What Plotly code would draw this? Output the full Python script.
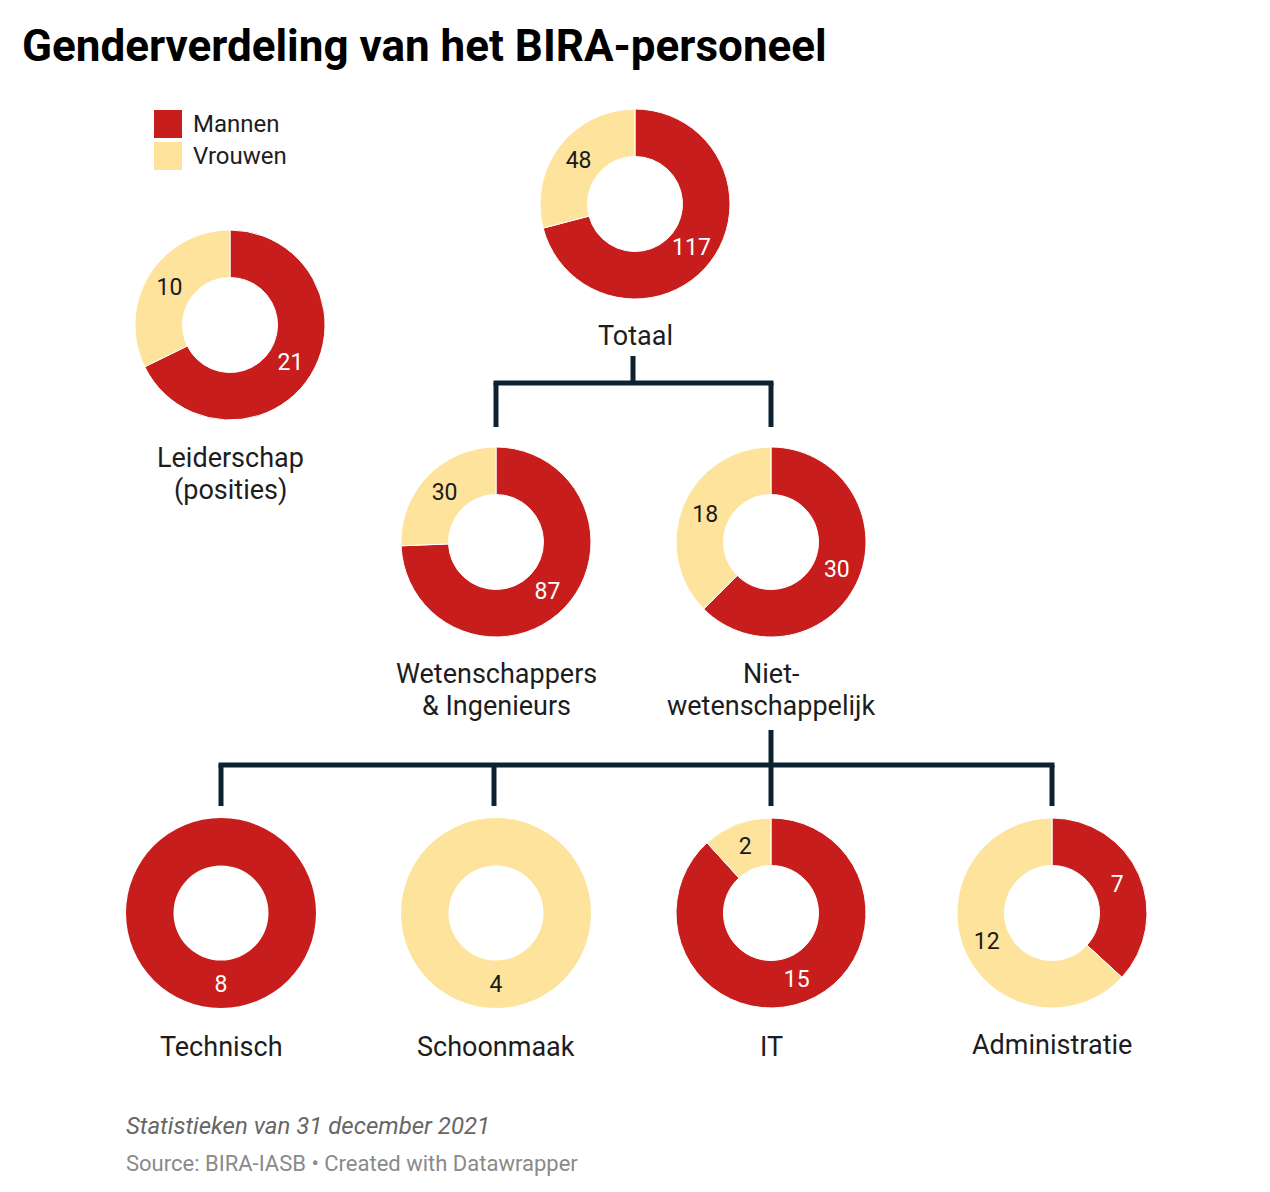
import plotly.graph_objects as go

# ---- data ----
categories = ["Totaal", "Leiderschap<br>(posities)", "Wetenschappers<br>& Ingenieurs",
              "Niet-<br>wetenschappelijk", "Technisch", "Schoonmaak", "IT", "Administratie"]
mannen = [117, 21, 87, 30, 8, 0, 15, 7]
vrouwen = [48, 10, 30, 18, 0, 4, 2, 12]
series_names = ["Mannen", "Vrouwen"]

# ---- layout / style ----
W, H = 1270, 1192
colors = ["#c71e1d", "#fde39c"]
text_colors = ["#ffffff", "#1a1a1a"]
centers = [(635, 204), (230, 325), (496, 542), (771, 542),
           (221, 913), (496, 913), (771, 913), (1052, 913)]
label_y = [336, 458, 674, 674, 1047, 1047, 1047, 1045]
LINE_GAP = 32
R = 95
FONT = "Roboto"
line_color = "#0d2230"

def px(x):
    return x / W

def py(y):
    return 1 - y / H

fig = go.Figure()
for i, cat in enumerate(categories):
    cx, cy = centers[i]
    vals = [mannen[i], vrouwen[i]]
    border = 0 if min(vals) == 0 else 1
    fig.add_trace(go.Pie(
        values=vals,
        labels=series_names,
        text=[str(v) if v > 0 else "" for v in vals],
        textinfo="text",
        textposition="inside",
        insidetextorientation="horizontal",
        textfont=dict(family=FONT, size=23, color=text_colors),
        marker=dict(colors=colors, line=dict(color="white", width=border)),
        hole=0.5,
        sort=False,
        direction="clockwise",
        rotation=0,
        domain=dict(x=[px(cx - R), px(cx + R)], y=[py(cy + R), py(cy - R)]),
        showlegend=False,
        hoverinfo="skip",
    ))

annotations = []
for i, cat in enumerate(categories):
    cx, _ = centers[i]
    for k, line in enumerate(cat.split("<br>")):
        annotations.append(dict(
            x=px(cx), y=py(label_y[i] + k * LINE_GAP), xref="paper", yref="paper",
            text=line, showarrow=False, xanchor="center", yanchor="middle",
            font=dict(family=FONT, size=27, color="#1d1d1d"),
        ))

# title
annotations.append(dict(
    x=px(20), y=py(46), xref="paper", yref="paper",
    text="<b>Genderverdeling van het BIRA-personeel</b>", showarrow=False,
    xanchor="left", yanchor="middle",
    font=dict(family=FONT, size=44, color="#000000"),
))
# legend (manual)
shapes = []
for j, name in enumerate(series_names):
    y0 = 110 + j * 32
    shapes.append(dict(type="rect", xref="paper", yref="paper",
                       x0=px(154), x1=px(182), y0=py(y0 + 28), y1=py(y0),
                       fillcolor=colors[j], line=dict(width=0)))
    annotations.append(dict(
        x=px(191), y=py(y0 + 14), xref="paper", yref="paper",
        text=name, showarrow=False, xanchor="left", yanchor="middle",
        font=dict(family=FONT, size=24, color="#1d1d1d"),
    ))

# footer
annotations.append(dict(
    x=px(124), y=py(1126), xref="paper", yref="paper",
    text="<i>Statistieken van 31 december 2021</i>", showarrow=False,
    xanchor="left", yanchor="middle",
    font=dict(family=FONT, size=24, color="#666666"),
))
annotations.append(dict(
    x=px(124), y=py(1163), xref="paper", yref="paper",
    text="Source: BIRA-IASB • Created with Datawrapper", showarrow=False,
    xanchor="left", yanchor="middle",
    font=dict(family=FONT, size=22, color="#8a8a8a"),
))

# connector lines
def seg(x0, y0, x1, y1):
    shapes.append(dict(type="line", xref="paper", yref="paper",
                       x0=px(x0), y0=py(y0), x1=px(x1), y1=py(y1),
                       line=dict(color=line_color, width=5)))

# Totaal -> Wetenschappers / Niet-wetenschappelijk
seg(633, 356, 633, 383)
seg(493.5, 383, 773.5, 383)
seg(496, 383, 496, 427)
seg(771, 383, 771, 427)
# Niet-wetenschappelijk -> 4 subgroups
seg(771, 730, 771, 806)
seg(218.5, 765, 1054.5, 765)
seg(221, 765, 221, 806)
seg(494, 765, 494, 806)
seg(1052, 765, 1052, 806)

fig.update_layout(
    width=W, height=H,
    margin=dict(l=0, r=0, t=0, b=0),
    paper_bgcolor="white", plot_bgcolor="white",
    annotations=annotations, shapes=shapes,
    showlegend=False,
    font=dict(family=FONT),
)

fig.write_html("out.html")
